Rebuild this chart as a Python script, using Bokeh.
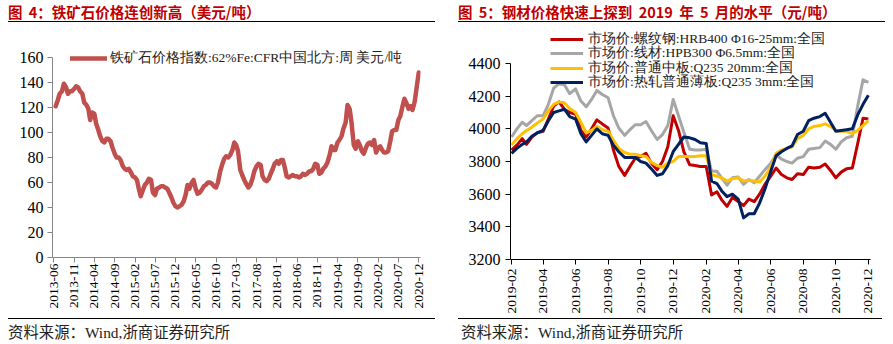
import math
import pandas as pd
from bokeh.plotting import figure
from bokeh.layouts import row, column
from bokeh.models import (Range1d, FixedTicker, DatetimeTickFormatter, Legend,
                          LegendItem, Div)
from bokeh.embed import file_html
from bokeh.resources import INLINE

# ------------------------------------------------------------------ data
ore_title = "图 4：铁矿石价格连创新高（美元/吨）"
ore_series_name = "铁矿石价格指数:62%Fe:CFR中国北方:周 美元/吨"
ore_first_date = "2013-06-15"          # semi-monthly observations
ore_values = [
    121, 126, 131, 133, 139, 136, 131, 133, 133, 135, 137, 136,
    133, 131, 124, 122, 119, 110, 116, 115, 107, 102, 97, 93,
    92, 95, 95, 93, 88, 83, 80, 80, 78, 73, 71, 70,
    71, 68, 65, 64, 62, 55, 49, 54, 58, 60, 63, 62,
    52, 50, 55, 56, 57, 57, 56, 55, 52, 48, 44, 41,
    40, 41, 42, 45, 50, 58, 55, 60, 62, 55, 51, 52,
    54, 57, 58, 60, 60, 59, 57, 56, 60, 69, 74, 79,
    81, 80, 82, 86, 92, 90, 85, 70, 66, 62, 59, 56,
    58, 63, 69, 73, 75, 74, 65, 62, 61, 63, 67, 71,
    75, 77, 75, 78, 78, 72, 65, 64, 65, 66, 65, 65,
    64, 65, 67, 66, 67, 69, 69, 71, 75, 74, 67, 68,
    71, 73, 76, 82, 89, 86, 86, 92, 94, 97, 103, 108,
    122, 119, 108, 90, 87, 93, 90, 85, 83, 88, 91, 92,
    90, 94, 84, 88, 89, 86, 84, 84, 85, 93, 101, 102,
    102, 110, 113, 121, 127, 123, 119, 121, 118, 125, 136, 148,
]
ore_tick_labels = ["2013-06", "2013-11", "2014-04", "2014-09", "2015-02",
                   "2015-07", "2015-12", "2016-05", "2016-10", "2017-03",
                   "2017-08", "2018-01", "2018-06", "2018-11", "2019-04",
                   "2019-09", "2020-02", "2020-07", "2020-12"]
ore_y_ticks = [0, 20, 40, 60, 80, 100, 120, 140, 160]

steel_title = "图 5：钢材价格快速上探到 2019 年 5 月的水平（元/吨）"
steel_names = ["市场价:螺纹钢:HRB400 Φ16-25mm:全国",
               "市场价:线材:HPB300 Φ6.5mm:全国",
               "市场价:普通中板:Q235 20mm:全国",
               "市场价:热轧普通薄板:Q235 3mm:全国"]
steel_days = [1, 11, 21]               # ten-day observations
steel_rebar = [
    3870, 3900, 3940, 3905, 3950, 3975, 3985, 4060, 4140, 4165,
    4120, 4100, 4090, 3990, 3950, 4000, 4055, 4030, 4005, 3870,
    3770, 3715, 3770, 3820, 3830, 3850, 3790, 3750, 3800, 3890,
    4080, 3990, 3860, 3780, 3775, 3770, 3770, 3595, 3615, 3565,
    3525, 3580, 3555, 3530, 3570, 3555, 3600, 3660, 3710, 3760,
    3720, 3700, 3690, 3725, 3720, 3765, 3760, 3765, 3785, 3745,
    3700, 3735, 3755, 3760, 3910, 4065, 4060]
steel_wire = [
    3950, 4000, 4040, 4020, 4050, 4080, 4080, 4150, 4250, 4275,
    4270, 4215, 4245, 4170, 4135, 4180, 4235, 4210, 4190, 4080,
    4005, 3960, 3995, 4025, 4025, 4045, 3990, 3935, 3965, 4020,
    4180, 4080, 3980, 3875, 3870, 3870, 3875, 3740, 3740, 3700,
    3655, 3700, 3705, 3660, 3690, 3670, 3710, 3750, 3790, 3840,
    3815, 3800, 3790, 3820, 3830, 3875, 3880, 3885, 3925, 3905,
    3875, 3920, 3945, 3955, 4140, 4300, 4285]
steel_plate = [
    3900, 3940, 3970, 3990, 4010, 4035, 4060, 4110, 4150, 4165,
    4160, 4125, 4100, 4040, 3975, 3990, 4015, 3995, 3985, 3930,
    3880, 3855, 3845, 3845, 3835, 3830, 3795, 3775, 3765, 3790,
    3800, 3830, 3830, 3830, 3830, 3835, 3835, 3720, 3710, 3700,
    3680, 3695, 3700, 3680, 3685, 3680, 3675, 3710, 3765, 3850,
    3870, 3880, 3890, 3940, 3960, 4000, 4015, 4020, 4030, 4015,
    3990, 3985, 3985, 3970, 3990, 4020, 4050]
steel_hotroll = [
    3850, 3880, 3905, 3920, 3955, 3975, 3990, 4050, 4100, 4110,
    4120, 4075, 4060, 3970, 3920, 3960, 4000, 3970, 3960, 3900,
    3860, 3825, 3825, 3825, 3800, 3790, 3755, 3715, 3725, 3775,
    3860, 3905, 3950, 3945, 3935, 3915, 3910, 3680, 3665, 3620,
    3585, 3600, 3570, 3455, 3480, 3480, 3545, 3630, 3740, 3835,
    3860, 3880, 3895, 3965, 3985, 4050, 4065, 4075, 4095, 4040,
    3985, 3990, 3995, 4000, 4085, 4150, 4205]
steel_colors = ["#C00000", "#A6A6A6", "#FFC000", "#002060"]
steel_tick_labels = ["2019-02", "2019-04", "2019-06", "2019-08", "2019-10",
                     "2019-12", "2020-02", "2020-04", "2020-06", "2020-08",
                     "2020-10", "2020-12"]
steel_y_ticks = [3200, 3400, 3600, 3800, 4000, 4200, 4400]

source_text = "资料来源：Wind,浙商证券研究所"

# ------------------------------------------------------------------ helpers
SERIF = "Liberation Serif"
TITLE_RED = "#C00000"


def ms(label):
    return pd.Timestamp(label + "-01").timestamp() * 1000.0


def header(width, left, text):
    html = ('<div style="margin:0 0 0 %dpx;width:427px;height:22px;padding-top:3px;'
            'border-bottom:1.5px solid #000;font-family:\'Noto Sans CJK SC\';'
            'font-weight:bold;font-size:14.5px;line-height:18px;color:%s;'
            'word-spacing:3px;white-space:nowrap;">%s</div>' % (left, TITLE_RED, text))
    return Div(text=html, width=width, height=27, margin=0)


def footer(width, left, dx, text):
    html = ('<div style="margin:0 0 0 %dpx;width:%dpx;border-top:1.5px solid #000;'
            'padding:6px 0 0 %dpx;font-family:\'Liberation Serif\',\'Noto Sans CJK SC\';'
            'font-size:15.4px;line-height:16px;color:#222;white-space:nowrap;">%s</div>'
            % (left, 427 - dx, dx, text))
    return Div(text=html, width=width, height=26, margin=0)


def style_axes(p, color, xlabels, yticks, ybounds, standoff_x, standoff_y):
    p.grid.visible = False
    fmt = "%Y-%m"
    p.xaxis.ticker = FixedTicker(ticks=[ms(s) for s in xlabels])
    p.xaxis.formatter = DatetimeTickFormatter(days=fmt, months=fmt, years=fmt,
                                              hours=fmt, hourmin=fmt)
    p.xaxis.major_label_orientation = math.pi / 2
    p.yaxis.ticker = FixedTicker(ticks=yticks)
    p.yaxis.bounds = ybounds
    for ax in (p.xaxis[0], p.yaxis[0]):
        ax.axis_line_color = color
        ax.axis_line_width = 1
        ax.major_tick_line_color = color
        ax.minor_tick_line_color = None
        ax.major_tick_in = 0
        ax.major_tick_out = 5
        ax.major_label_text_font = SERIF
        ax.major_label_text_color = "black"
    p.xaxis.major_label_text_font_size = "13.5px"
    p.yaxis.major_label_text_font_size = "16px"
    p.xaxis.major_label_standoff = standoff_x
    p.yaxis.major_label_standoff = standoff_y


def add_legend(p, name, renderer, x, y, glyph_w, standoff):
    p.add_layout(Legend(items=[LegendItem(label=name, renderers=[renderer])],
                        location=(x, y), glyph_width=glyph_w, glyph_height=14,
                        label_height=14, label_standoff=standoff, padding=0,
                        margin=0, spacing=0, border_line_color=None,
                        background_fill_alpha=0, label_text_font=SERIF,
                        label_text_font_size="13.5px",
                        label_text_color="#222222"))


# ------------------------------------------------------------------ chart 4
ore_dates = pd.date_range(ore_first_date, periods=len(ore_values), freq="SMS")
p1 = figure(width=446, height=291, x_axis_type="datetime",
            x_range=Range1d(pd.Timestamp("2013-05-22"), pd.Timestamp("2020-12-14")),
            y_range=Range1d(0, 173.6),
            min_border_left=52, min_border_right=26, min_border_top=13,
            min_border_bottom=61, toolbar_location=None, output_backend="svg",
            outline_line_color=None)
style_axes(p1, "#868686", ore_tick_labels, ore_y_ticks, (0, 160), 1, 4)
r_ore = p1.line(ore_dates, ore_values, line_color="#C0504D", line_width=4.5,
                line_join="round", line_cap="round")
add_legend(p1, ore_series_name, r_ore, 18, 190, 37, 3)

# ------------------------------------------------------------------ chart 5
months = pd.date_range("2019-02-01", "2020-12-01", freq="MS")
steel_dates = [pd.Timestamp(m.year, m.month, d) for m in months for d in steel_days]
steel_dates = steel_dates[:len(steel_rebar)]

p2 = figure(width=447, height=291, x_axis_type="datetime",
            x_range=Range1d(pd.Timestamp("2019-01-30"), pd.Timestamp("2020-12-05")),
            y_range=Range1d(3200, 4620.4),
            min_border_left=64, min_border_right=23, min_border_top=0,
            min_border_bottom=59, toolbar_location=None, output_backend="svg",
            outline_line_color=None)
style_axes(p2, "black", steel_tick_labels, steel_y_ticks, (3200, 4400), 4, 5)
legend_y = [211.5, 197, 182.5, 168]
for name, vals, col, ly in zip(steel_names,
                               [steel_rebar, steel_wire, steel_plate, steel_hotroll],
                               steel_colors, legend_y):
    r = p2.line(steel_dates, vals, line_color=col, line_width=3, line_join="round")
    add_legend(p2, name, r, 40, ly, 33, 5)

# ------------------------------------------------------------------ layout
left = column(header(446, 8, ore_title), p1, footer(446, 8, 0, source_text))
right = column(header(447, 12, steel_title), p2, footer(447, 12, 3, source_text))
page = row(left, right)

open("out.html", "w").write(file_html(page, INLINE))
